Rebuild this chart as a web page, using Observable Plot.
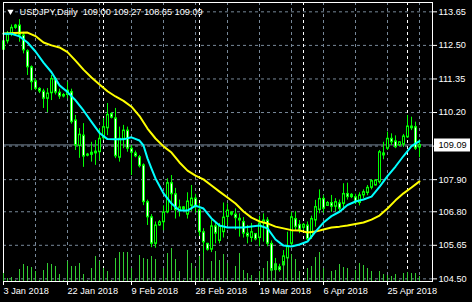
<!DOCTYPE html>
<html><head><meta charset="utf-8">
<script src="https://cdn.jsdelivr.net/npm/d3@7"></script>
<script src="https://cdn.jsdelivr.net/npm/@observablehq/plot@0.6"></script>
<style>
html,body{margin:0;padding:0;background:#000;}
#chart{position:relative;width:472px;height:302px;overflow:hidden;background:#000;}
#chart svg{position:absolute;left:0;top:0;}
</style></head><body><div id="chart"></div>
<script>
const symbol = "USDJPY", timeframe = "Daily";
const xLabels = ["3 Jan 2018","22 Jan 2018","9 Feb 2018","28 Feb 2018","19 Mar 2018","6 Apr 2018","25 Apr 2018"];
const xLabelIdx = [0,16,32,48,64,80,96];
const gridIdx = [8,16,24,32,40,48,56,64,72,80,88,96,104];
const monthIdx = [25,49,75,101];
const yTicks = [104.50,105.65,106.80,107.90,109.05,110.20,111.35,112.50,113.65];

const open = [112.35,112.64,112.87,113.10,113.18,112.84,112.30,111.75,111.27,111.01,110.92,110.67,110.86,111.35,110.88,110.75,110.80,110.90,109.93,109.05,109.41,108.72,108.75,108.80,108.84,109.32,109.66,110.15,110.00,108.65,109.28,109.58,108.96,108.80,108.67,108.39,107.13,106.61,105.70,106.33,106.44,106.78,107.78,107.40,106.85,106.95,106.70,107.00,107.25,106.85,106.10,105.70,105.50,106.30,105.80,106.10,106.62,106.78,106.70,106.50,106.45,106.05,105.90,106.04,105.90,106.40,106.50,105.70,104.80,104.90,104.96,105.20,105.70,106.55,106.35,106.25,106.33,105.93,106.50,106.86,107.24,107.00,107.10,106.97,107.09,107.07,107.41,107.30,107.30,107.10,107.36,107.44,107.62,107.70,107.81,108.73,108.96,109.30,109.21,109.07,109.10,109.35,109.72,109.70,109.00];
const high = [112.90,112.98,113.20,113.22,113.38,112.95,112.35,111.80,111.35,111.05,111.00,111.02,111.47,111.40,111.00,110.85,111.24,111.00,110.10,109.65,109.82,108.80,109.18,109.24,109.65,109.99,110.51,110.20,110.34,109.70,109.76,109.70,109.07,108.88,108.73,108.44,107.20,106.70,106.45,106.50,107.00,107.93,108.04,107.60,107.20,106.98,107.45,107.70,107.40,107.08,106.22,105.72,106.50,106.45,106.40,107.10,107.07,106.80,106.90,106.73,106.60,106.33,106.40,106.05,106.65,106.73,106.60,105.80,105.20,105.00,105.47,106.10,106.78,106.80,106.50,106.40,106.45,106.65,107.19,107.55,107.35,107.15,107.36,107.25,107.20,107.76,107.78,107.42,107.40,107.45,107.55,107.70,107.90,107.90,108.90,109.18,109.53,109.47,109.40,109.20,109.45,110.10,110.04,109.87,109.27];
const low = [112.20,112.55,112.80,113.05,112.61,112.21,111.47,110.95,110.95,110.85,110.34,110.20,110.61,110.80,110.65,110.70,110.67,109.80,108.90,108.63,108.32,108.68,108.50,108.39,108.56,109.24,109.41,109.98,108.62,108.50,108.96,108.84,108.04,108.65,108.30,107.01,106.33,105.57,105.55,106.30,106.15,106.73,106.84,106.55,106.62,106.80,106.55,106.80,106.75,105.95,105.25,105.45,105.40,105.70,105.70,105.90,106.33,106.65,106.16,105.93,105.90,105.70,105.75,105.80,105.60,105.76,105.60,104.73,104.63,104.73,104.78,105.07,105.64,106.15,106.05,106.16,105.80,105.85,106.27,106.73,106.75,106.98,106.78,106.80,106.75,106.84,107.20,107.25,107.05,107.00,107.25,107.35,107.55,107.68,107.75,108.58,108.90,109.07,108.96,109.05,109.00,109.31,109.58,108.90,108.65];
const close = [112.64,112.87,113.10,113.18,112.84,112.33,111.75,111.24,111.01,110.92,110.67,110.85,111.35,110.88,110.75,110.80,110.95,109.87,109.07,109.44,108.69,108.76,108.82,108.86,109.30,109.70,110.12,110.02,108.70,109.30,109.58,108.96,108.82,108.70,108.36,107.13,106.61,105.70,106.33,106.44,106.78,107.78,107.40,106.85,106.95,106.88,107.15,107.25,106.95,106.10,105.75,105.50,106.30,106.05,106.30,106.60,106.84,106.70,106.58,106.56,106.05,105.95,106.10,105.85,106.40,106.50,105.70,104.78,105.00,104.80,105.27,105.60,106.61,106.27,106.18,106.35,105.85,106.55,106.96,107.24,106.90,107.10,106.97,107.13,106.90,107.41,107.30,107.38,107.13,107.36,107.47,107.62,107.85,107.87,108.84,108.80,109.30,109.18,109.01,109.18,109.38,109.72,109.66,108.96,109.09];
const volume = [8,3,4,1,12,17,15,14,10,1,11,18,17,15,7,1,20,15,15,18,7,1,13,25,20,13,10,1,23,29,29,29,13,2,26,23,22,25,22,1,13,28,33,22,10,1,31,18,13,25,28,2,20,30,21,27,18,1,15,28,11,8,6,1,10,13,20,13,20,1,20,24,27,22,10,1,13,15,24,29,13,1,10,11,17,14,13,1,11,18,16,13,10,1,10,7,6,5,7,1,8,9,8,8,5];

const fastIdx = [0,2,4,6,8,10,12,14,16,18,20,22,24,26,28,30,32,34,35,36,37,38,40,42,44,46,48,50,52,54,56,60,64,66,68,70,72,74,76,78,80,82,84,86,88,90,92,94,96,98,100,102,104];
const fastVal = [112.90,112.90,112.81,112.60,112.29,111.91,111.58,111.13,110.90,110.62,110.27,109.88,109.50,109.29,109.28,109.28,109.35,109.24,109.07,108.63,108.28,107.94,107.43,107.08,106.84,106.84,107.01,106.91,106.57,106.33,106.26,106.26,106.33,106.23,105.85,105.64,105.61,105.68,105.78,106.12,106.43,106.65,106.80,107.03,107.15,107.22,107.32,107.65,108.02,108.35,108.71,109.05,109.22];
const slowIdx = [0,4,6,8,10,12,14,16,18,20,22,24,26,28,30,32,34,36,38,40,42,44,46,48,50,52,54,56,58,60,62,64,66,68,70,72,74,76,78,80,82,84,86,88,90,92,94,96,98,100,102,104];
const slowVal = [112.91,112.93,112.94,112.82,112.60,112.50,112.43,112.27,111.98,111.67,111.40,111.16,110.93,110.75,110.60,110.40,110.08,109.65,109.31,109.04,108.83,108.49,108.21,108.04,107.91,107.70,107.49,107.29,107.08,106.81,106.60,106.47,106.40,106.29,106.23,106.17,106.16,106.09,106.12,106.19,106.26,106.29,106.33,106.38,106.43,106.53,106.67,106.91,107.19,107.43,107.63,107.84];

const bars = open.map((o, i) => ({i, o, h: high[i], l: low[i], c: close[i], v: volume[i]}));
const fast = fastIdx.map((i, k) => ({i, v: fastVal[k]}));
const slow = slowIdx.map((i, k) => ({i, v: slowVal[k]}));
const last = bars[bars.length - 1];
const title = `${symbol},${timeframe}  ${last.o.toFixed(2)} ${last.h.toFixed(2)} ${last.l.toFixed(2)} ${last.c.toFixed(2)}`;

const FONT = '"Liberation Sans", Arial, sans-serif';
const LIME = "#00ff00", GRID = "#778899";
const W = 472, H = 302, ML = 3, MR = 40, MT = 2, MB = 21;
const FRAME_W = W - ML - MR;
const xDomain = [0, 107.25];

const main = Plot.plot({
  width: W, height: H, marginLeft: ML, marginRight: MR, marginTop: MT, marginBottom: MB,
  style: {background: "transparent", color: "#fff", fontFamily: FONT, fontSize: "9.2px"},
  x: {domain: xDomain, axis: null, label: null},
  y: {domain: [104.41, 113.97], axis: null, label: null},
  marks: [
    Plot.ruleY(yTicks, {stroke: GRID, strokeDasharray: "3,3"}),
    Plot.ruleX(gridIdx, {stroke: GRID, strokeDasharray: "3,3"}),
    Plot.ruleX(monthIdx, {stroke: "#fff", strokeDasharray: "3,3"}),
    Plot.ruleY([last.c], {stroke: GRID}),
    Plot.ruleX(bars, {x: "i", y1: "l", y2: "h", stroke: LIME}),
    Plot.ruleX(bars, {x: "i", y1: d => Math.max(d.o, d.c), y2: d => Math.min(d.o, d.c), stroke: LIME, strokeWidth: 3, insetTop: -0.5, insetBottom: -0.5}),
    Plot.ruleX(bars.filter(d => Math.abs(d.o - d.c) > 0.085), {x: "i", y1: d => Math.max(d.o, d.c), y2: d => Math.min(d.o, d.c), stroke: d => d.c >= d.o ? "#000" : "#fff", strokeWidth: 1, insetTop: 1, insetBottom: 1}),
    Plot.line(slow, {x: "i", y: "v", stroke: "#ffff00", strokeWidth: 2}),
    Plot.line(fast, {x: "i", y: "v", stroke: "#00ffff", strokeWidth: 2}),
    Plot.frame({stroke: "#fff"}),
    Plot.axisY(yTicks, {anchor: "right", label: null, tickSize: 4, tickPadding: 2, tickFormat: d => d.toFixed(2), stroke: "#fff", fill: "#fff"}),
    Plot.axisX(xLabelIdx, {anchor: "bottom", label: null, tickSize: 4, tickPadding: 2, tickFormat: (d, k) => xLabels[k], textAnchor: "start", stroke: "#fff", fill: "#fff"}),
    // last-price label box on the price axis
    Plot.ruleY([last.c], {stroke: "#fff", strokeWidth: 13, insetLeft: FRAME_W + 2, insetRight: -38}),
    Plot.text([last], {y: "c", text: d => d.c.toFixed(2), frameAnchor: "right", dx: 6, textAnchor: "start", fill: "#000"}),
    Plot.dot([0], {frameAnchor: "top-left", dx: 7, dy: 9, symbol: "triangle", r: 2.3, fill: "#fff", stroke: null, rotate: 180}),
    Plot.text([title], {text: d => d, frameAnchor: "top-left", dx: 16, dy: 5.8, lineAnchor: "top", textAnchor: "start", fill: "#fff"})
  ]
});

const vol = Plot.plot({
  width: W, height: H, marginLeft: ML, marginRight: MR, marginTop: 241, marginBottom: MB,
  style: {background: "transparent"},
  x: {domain: xDomain, axis: null, label: null},
  y: {domain: [0, 40], axis: null, label: null},
  marks: [
    Plot.ruleX(bars, {x: "i", y1: 0, y2: "v", stroke: "#32cd32"})
  ]
});

const el = document.getElementById("chart");
el.appendChild(main);
el.appendChild(vol);
</script></body></html>
